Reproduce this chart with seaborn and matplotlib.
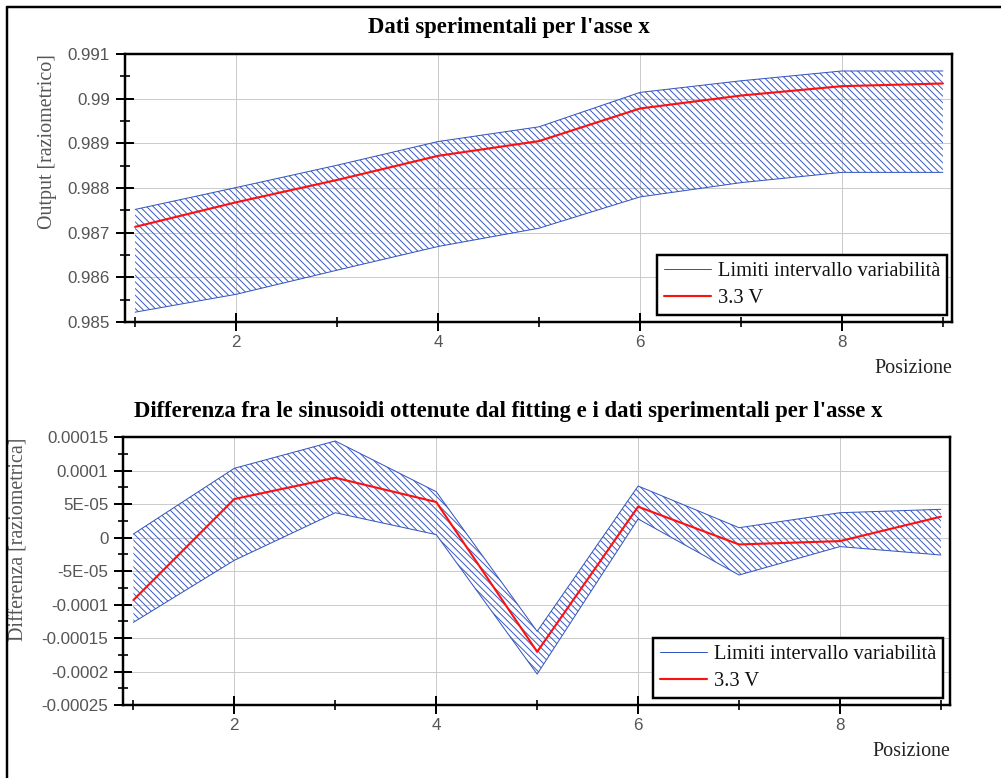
import matplotlib
matplotlib.use("Agg")
import matplotlib.pyplot as plt
from matplotlib.lines import Line2D
from matplotlib.ticker import FixedLocator, FuncFormatter, AutoMinorLocator
import pandas as pd
import seaborn as sns

# ---------------- data ----------------
posizione = [1, 2, 3, 4, 5, 6, 7, 8, 9]

out_upper = [0.98752, 0.98801, 0.98851, 0.98904, 0.98937, 0.99014, 0.99040, 0.99062, 0.99062]
out_mid = [0.98713, 0.98768, 0.98818, 0.98872, 0.98905, 0.98978, 0.99007, 0.99028, 0.99034]
out_lower = [0.98522, 0.98562, 0.98616, 0.98669, 0.98710, 0.98780, 0.98812, 0.98835, 0.98835]

diff_upper = [5.5e-6, 1.037e-4, 1.445e-4, 6.87e-5, -1.40e-4, 7.72e-5, 1.49e-5, 3.73e-5, 4.24e-5]
diff_mid = [-9.32e-5, 5.78e-5, 8.96e-5, 5.33e-5, -1.705e-4, 4.63e-5, -1.01e-5, -5.1e-6, 3.14e-5]
diff_lower = [-1.265e-4, -3.38e-5, 3.73e-5, 4.6e-6, -2.038e-4, 2.8e-5, -5.58e-5, -1.33e-5, -2.59e-5]

out_yticks = [0.985, 0.986, 0.987, 0.988, 0.989, 0.99, 0.991]
diff_yticks = [-0.00025, -0.0002, -0.00015, -0.0001, -5e-05, 0.0, 5e-05, 0.0001, 0.00015]
x_major = [2, 4, 6, 8]
x_minor = [1, 3, 5, 7, 9]

title_top = "Dati sperimentali per l'asse x"
title_bottom = "Differenza fra le sinusoidi ottenute dal fitting e i dati sperimentali per l'asse x"
ylabel_top = "Output [raziometrico]"
ylabel_bottom = "Differenza [raziometrica]"
xlabel = "Posizione"
legend_labels = ["Limiti intervallo variabilità", "3.3 V"]

# ---------------- style ----------------
sns.set_theme(style="white")
plt.rcParams['font.family'] = ['Liberation Sans', 'DejaVu Sans']
plt.rcParams['hatch.linewidth'] = 0.85

BLUE = '#3355c0'
RED = '#ff1010'
GRID = '#cbcbcb'
TICKTXT = '#555555'
SERIF = ['Liberation Serif', 'DejaVu Serif']

W, H, DPI = 1001, 778, 80
fig = plt.figure(figsize=(W / DPI, H / DPI), dpi=DPI)
fig.patch.set_facecolor('white')

def px_rect(left, top, right, bottom):
    return [left / W, 1 - bottom / H, (right - left) / W, (bottom - top) / H]

ax1 = fig.add_axes(px_rect(125, 54, 952, 322))
ax2 = fig.add_axes(px_rect(123.3, 437.3, 950, 705))

def draw(ax, upper, mid, lower, yticks, ylim, ylab, ylab_x, leg_right_px, axw, axh):
    df = pd.DataFrame({'pos': posizione, 'upper': upper, 'mid': mid, 'lower': lower})
    ax.set_axisbelow(True)
    ax.fill_between(df['pos'], df['lower'], df['upper'], facecolor='none',
                    edgecolor=BLUE, hatch='\\\\\\\\', linewidth=0, zorder=1)
    sns.lineplot(data=df, x='pos', y='upper', ax=ax, color=BLUE, lw=0.9, zorder=2)
    sns.lineplot(data=df, x='pos', y='lower', ax=ax, color=BLUE, lw=0.9, zorder=2)
    sns.lineplot(data=df, x='pos', y='mid', ax=ax, color=RED, lw=1.9, zorder=3)

    ax.set_xlim(0.9, 9.09)
    ax.set_ylim(*ylim)
    ax.xaxis.set_major_locator(FixedLocator(x_major))
    ax.xaxis.set_minor_locator(FixedLocator(x_minor))
    ax.yaxis.set_major_locator(FixedLocator(yticks))
    ax.yaxis.set_minor_locator(AutoMinorLocator(2))
    ax.yaxis.set_major_formatter(FuncFormatter(lambda v, p: '%G' % v))

    ax.grid(True, which='major', color=GRID, lw=0.9)
    ax.grid(False, which='minor')
    for s in ax.spines.values():
        s.set_color('black')
        s.set_linewidth(2.2)
    ax.tick_params(which='major', direction='inout', length=17, width=1.8,
                   color='black', labelsize=15.3, labelcolor=TICKTXT)
    ax.tick_params(axis='x', which='major', pad=3)
    ax.tick_params(axis='y', which='major', pad=5)
    ax.tick_params(which='minor', direction='inout', length=9, width=1.5, color='black')
    ax.tick_params(left=True, bottom=True, right=False, top=False, which='both')

    ax.set_ylabel(ylab, loc='top', fontsize=18, color='#555555', family=SERIF)
    ax.yaxis.set_label_coords(ylab_x, 1.0)
    ax.set_xlabel(xlabel, loc='right', fontsize=18, color='#222222', family=SERIF)
    ax.xaxis.set_label_coords(1.0, -0.138)

    handles = [Line2D([], [], color=BLUE, lw=0.9), Line2D([], [], color=RED, lw=1.9)]
    leg = ax.legend(handles, legend_labels, loc='lower right',
                    bbox_to_anchor=(1 - leg_right_px / axw, 7 / axh), borderaxespad=0,
                    frameon=True, fancybox=False, framealpha=1, edgecolor='black',
                    prop={'family': SERIF, 'size': 18.5}, handlelength=2.3,
                    handletextpad=0.35, labelspacing=0.4, borderpad=0.32)
    leg.get_frame().set_linewidth(2.2)
    for t in leg.get_texts():
        t.set_color('#111111')

draw(ax1, out_upper, out_mid, out_lower, out_yticks, (0.985, 0.991), ylabel_top,
     (57 - 125) / 827, 5, 827, 268)
draw(ax2, diff_upper, diff_mid, diff_lower, diff_yticks, (-0.00025, 0.00015), ylabel_bottom,
     (29 - 123.3) / 826.7, 6.7, 826.7, 267.7)

fig.text(509 / W, 1 - 28 / H, title_top, ha='center', va='center', fontsize=20.5,
         fontweight='bold', family=SERIF, color='black')
fig.text(508 / W, 1 - 412 / H, title_bottom, ha='center', va='center', fontsize=20.5,
         fontweight='bold', family=SERIF, color='black')

# outer frame
fig.add_artist(Line2D([7 / W, 7 / W], [0, 1 - 7 / H], color='black', lw=2.2,
                      transform=fig.transFigure))
fig.add_artist(Line2D([7 / W, 1], [1 - 7 / H, 1 - 7 / H], color='black', lw=2.2,
                      transform=fig.transFigure))

fig.savefig('out.png', dpi=DPI)
